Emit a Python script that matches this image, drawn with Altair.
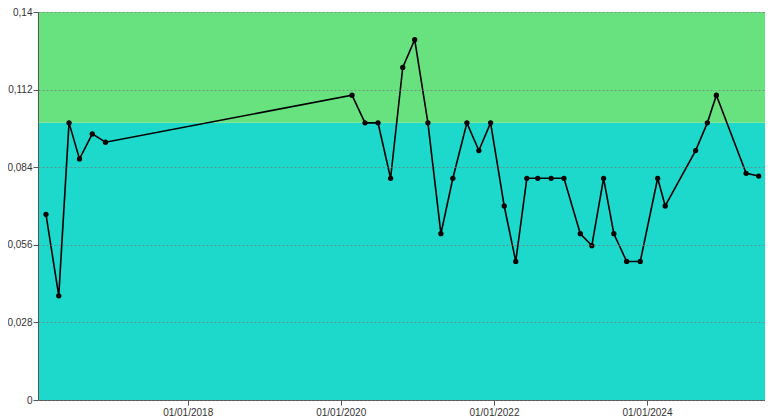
import altair as alt
import pandas as pd

# ---- data ----
dates = [
    "2016-02-25", "2016-04-26", "2016-06-14", "2016-08-03", "2016-10-03", "2016-12-05",
    "2020-02-24", "2020-04-26", "2020-06-27", "2020-08-26", "2020-10-23", "2020-12-19",
    "2021-02-20", "2021-04-23", "2021-06-19", "2021-08-25", "2021-10-21", "2021-12-16",
    "2022-02-19", "2022-04-15", "2022-06-07", "2022-07-29", "2022-10-01", "2022-12-01",
    "2023-02-17", "2023-04-13", "2023-06-08", "2023-07-27", "2023-09-26", "2023-11-30",
    "2024-02-21", "2024-03-28", "2024-08-20", "2024-10-15", "2024-11-27",
    "2025-04-18", "2025-06-17",
]
values = [
    0.067, 0.0376, 0.1, 0.087, 0.096, 0.093,
    0.11, 0.1, 0.1, 0.08, 0.12, 0.13,
    0.1, 0.06, 0.08, 0.1, 0.09, 0.1,
    0.07, 0.05, 0.08, 0.08, 0.08, 0.08,
    0.06, 0.0557, 0.08, 0.06, 0.05, 0.05,
    0.08, 0.07, 0.09, 0.1, 0.11,
    0.0818, 0.0808,
]

band_low = [0.0, 0.1]
band_high = [0.1, 0.14]
band_colors = ["#1CD9CC", "#68E27F"]

y_ticks = [0, 0.028, 0.056, 0.084, 0.112, 0.14]
x_tick_years = [2018, 2020, 2022, 2024]

W = 727
H = 388

df = pd.DataFrame({"date": dates, "value": values})
bands = pd.DataFrame({"lo": band_low, "hi": band_high, "color": band_colors})

x_scale = alt.Scale(domain=[alt.DateTime(year=2016, month=1, date=18),
                            alt.DateTime(year=2025, month=7, date=17)])
y_scale = alt.Scale(domain=[0, 0.14], nice=False)

rects = alt.Chart(bands).mark_rect().encode(
    x=alt.value(0),
    x2=alt.value(W),
    y=alt.Y("lo:Q", scale=y_scale,
            axis=alt.Axis(values=y_ticks, format=".3~f",
                          labelExpr="replace(datum.label, '.', ',')",
                          grid=True, gridDash=[2, 2], gridColor="#777777",
                          gridOpacity=0.7, zindex=1, title=None,
                          tickSize=5, labelPadding=1,
                          domainColor="#555555", tickColor="#555555")),
    y2="hi:Q",
    color=alt.Color("color:N", scale=None),
)

line = alt.Chart(df).mark_line(
    color="black", strokeWidth=1.6,
    point=alt.OverlayMarkDef(color="black", filled=True, size=28, opacity=1),
).encode(
    x=alt.X("date:T", scale=x_scale,
            axis=alt.Axis(values=[alt.DateTime(year=y, month=1, date=1) for y in x_tick_years],
                          format="%d/%m/%Y", grid=False, title=None,
                          tickSize=5, labelPadding=2,
                          domainColor="#555555", tickColor="#555555")),
    y=alt.Y("value:Q", scale=y_scale),
)

chart = alt.layer(rects, line).properties(
    width=W, height=H,
    autosize=alt.AutoSizeParams(type="none"),
    padding={"left": 30, "top": 4, "right": 0, "bottom": 22},
).configure_view(
    stroke=None
).configure_axis(
    labelFont="Liberation Sans", labelFontSize=10, labelColor="#333333",
)

chart.save("out.html", embed_options={"renderer": "svg", "actions": False})
